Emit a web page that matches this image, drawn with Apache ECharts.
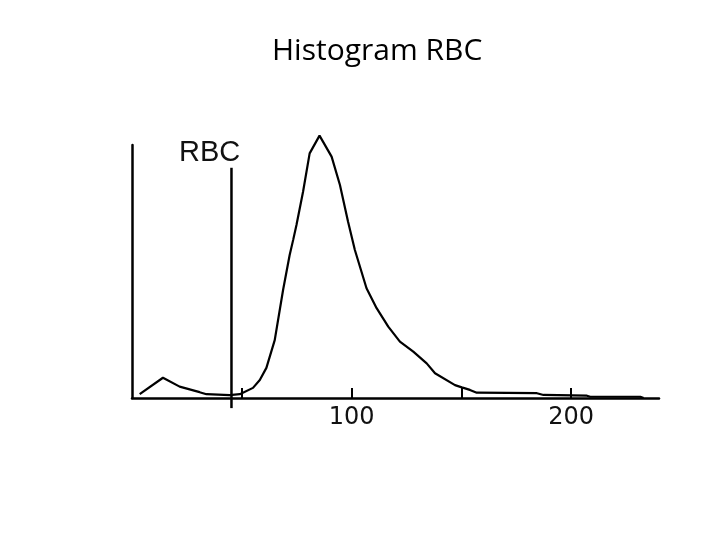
<!DOCTYPE html>
<html>
<head>
<meta charset="utf-8">
<script src="https://cdn.jsdelivr.net/npm/echarts@6/dist/echarts.min.js"></script>
<style>html,body{margin:0;padding:0;background:#fff;}#main{width:720px;height:540px;}</style>
</head>
<body>
<div id="main"></div>
<script>
// Cell size (fL) sampled along the curve
const sizes = [3.5, 14.1, 21.7, 30.8, 33.9, 44.5, 49.1, 55.1, 58.2, 61.2, 65.0, 68.8, 71.8, 73.4, 74.9, 77.9, 80.9, 85.4, 90.9, 94.7, 98.4, 101.5, 106.8, 111.4, 116.7, 122.0, 128.1, 134.2, 138.0, 147.1, 150.2, 153.9, 157.0, 184.4, 187.4, 207.2, 208.7, 231.5, 233.0];
// Relative count at each size
const counts = [1.5, 8.0, 4.5, 2.3, 1.5, 1.1, 1.5, 4.0, 7.1, 11.9, 22.9, 42.7, 56.5, 62.5, 68.4, 81.5, 96.7, 103.7, 95.4, 84.2, 69.7, 58.5, 43.4, 35.5, 28.2, 22.3, 18.3, 13.7, 9.8, 5.1, 4.2, 3.2, 2.1, 1.9, 1.2, 0.9, 0.5, 0.5, 0.0];
// Discriminator position and its vertical extent
const discriminatorX = [45.3, 45.3];
const discriminatorY = [-4, 91];
const tickValues = [50, 100, 150, 200];
const labelValues = [100, 200];
const titleText = 'Histogram RBC';
const markerText = 'RBC';

const chart = echarts.init(document.getElementById('main'));
chart.setOption({
  backgroundColor: '#ffffff',
  animation: false,
  title: {
    text: titleText,
    left: 267, top: 31,
    textStyle: { fontFamily: 'Open Sans', fontWeight: 'normal', fontSize: 30, color: '#000' }
  },
  grid: { left: 132, right: 61, top: 145, bottom: 142 },
  xAxis: {
    type: 'value', min: 0, max: 240, interval: 50,
    axisLine: { show: true, lineStyle: { color: '#000', width: 2.5 } },
    axisTick: { show: true, inside: true, length: 10, customValues: tickValues, lineStyle: { color: '#000', width: 2 } },
    axisLabel: {
      margin: 8, customValues: labelValues,
      fontFamily: 'DejaVu Sans', fontSize: 24, color: '#111'
    },
    splitLine: { show: false }
  },
  yAxis: {
    type: 'value', min: 0, max: 100,
    axisLine: { show: true, lineStyle: { color: '#000', width: 2.5 } },
    axisTick: { show: false }, axisLabel: { show: false }, splitLine: { show: false }
  },
  graphic: [{
    type: 'text', left: 179, top: 138,
    style: { text: markerText, font: '29px "Liberation Sans"', fill: '#111' }
  }],
  series: [
    {
      type: 'line', clip: false, symbol: 'none',
      lineStyle: { color: '#000', width: 2.2 },
      data: sizes.map((s, i) => [s, counts[i]])
    },
    {
      type: 'line', clip: false, symbol: 'none',
      lineStyle: { color: '#000', width: 2.5 },
      data: discriminatorX.map((s, i) => [s, discriminatorY[i]])
    }
  ]
});
</script>
</body>
</html>
